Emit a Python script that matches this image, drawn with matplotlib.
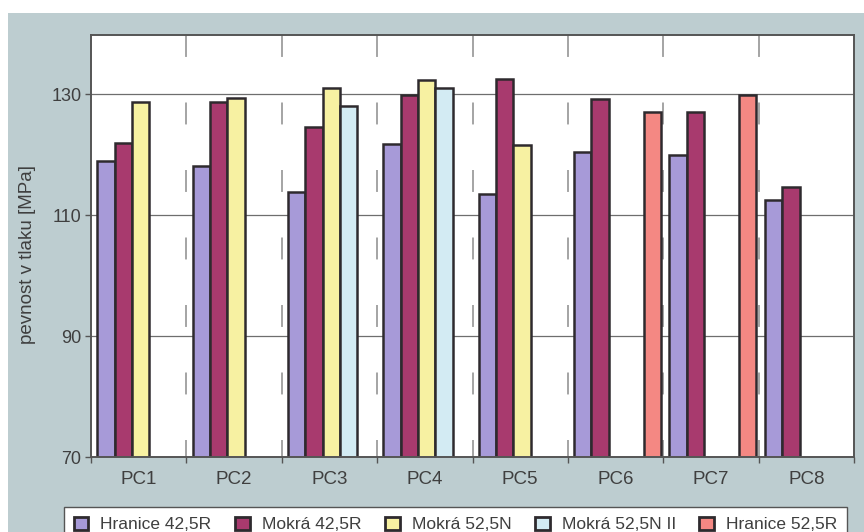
import numpy as np
import matplotlib
matplotlib.use("Agg")
import matplotlib.pyplot as plt
from matplotlib.patches import Rectangle, Patch

plt.rcParams['font.family'] = ['Liberation Sans', 'DejaVu Sans']
plt.rcParams['lines.scale_dashes'] = False

categories = ["PC1", "PC2", "PC3", "PC4", "PC5", "PC6", "PC7", "PC8"]
series_names = ["Hranice 42,5R", "Mokrá 42,5R", "Mokrá 52,5N",
                "Mokrá 52,5N II", "Hranice 52,5R"]
nan = np.nan
hranice_425r = [118.9, 118.1, 113.8, 121.7, 113.5, 120.4, 119.9, 112.5]
mokra_425r = [121.9, 128.7, 124.6, 129.9, 132.6, 129.2, 127.1, 114.6]
mokra_525n = [128.7, 129.4, 131.1, 132.3, 121.6, nan, nan, nan]
mokra_525n_ii = [nan, nan, 128.1, 131.1, nan, nan, nan, nan]
hranice_525r = [nan, nan, nan, nan, nan, 127.1, 129.8, nan]
series_values = [hranice_425r, mokra_425r, mokra_525n, mokra_525n_ii, hranice_525r]
y_ticks = [70, 90, 110, 130]

colors = ["#a79ad8", "#a83a6e", "#f7f1a2", "#d3ebf3", "#f48883"]
edge = "#2e2a2e"
text_col = "#3f3f3f"

fig = plt.figure(figsize=(8.64, 5.32), dpi=100, facecolor="white")
# page backdrop, drawn beneath everything else
fig.patches.append(Rectangle((8 / 864, 0), 1, (532 - 13) / 532,
                             transform=fig.transFigure, facecolor="#bdcdd0",
                             edgecolor="none", zorder=-10))

ax = fig.add_axes([91 / 864, 1 - 457 / 532, (854 - 91) / 864, (457 - 35) / 532])
ax.set_zorder(1)
ax.set_facecolor("white")
n = len(categories)
x = np.arange(n)
ax.set_xlim(-0.5, n - 0.5)
ax.set_ylim(70, 139.8)

# horizontal grid
for v in y_ticks[1:]:
    ax.axhline(v, color="#6e6e6e", lw=0.9, zorder=1)
# dashed separators between groups
for b in np.arange(0.5, n - 0.5, 1.0):
    ax.plot([b, b], [139.8, 70], color="#8c8c8c", lw=1.1,
            dashes=(15.8, 32.8), zorder=1, solid_capstyle="butt")

w = 0.182
for k, (vals, c) in enumerate(zip(series_values, colors)):
    vals = np.asarray(vals, dtype=float)
    m = ~np.isnan(vals)
    ax.bar(x[m] + (k - 2) * w + 0.02, vals[m], width=w, color=c,
           edgecolor=edge, linewidth=1.8, zorder=3)

for s in ax.spines.values():
    s.set_color("#555555")
    s.set_linewidth(1.4)
    s.set_zorder(4)

ax.set_yticks(y_ticks)
ax.set_yticklabels([str(v) for v in y_ticks])
ax.tick_params(axis="y", direction="out", length=4, width=1.0, color="#555555",
               labelsize=13, labelcolor=text_col, pad=3)
ax.set_xticks(x)
ax.set_xticklabels(categories)
ax.set_xticks(np.arange(-0.5, n, 1.0), minor=True)
ax.tick_params(axis="x", which="major", length=0, labelsize=13.5,
               labelcolor=text_col, pad=10)
ax.tick_params(axis="x", which="minor", direction="out", length=4, width=1.0,
               color="#555555")

ax.set_ylabel("pevnost v tlaku [MPa]", fontsize=13.5, color=text_col)
ax.yaxis.set_label_coords(-0.072, 0.48)

handles = [Patch(facecolor=c, edgecolor=edge, linewidth=2.0) for c in colors]
leg = fig.legend(handles, series_names, loc="upper left", ncol=5,
                 bbox_to_anchor=(64 / 864, 1 - 507 / 532), frameon=True,
                 fancybox=False, framealpha=1, edgecolor="#555555",
                 fontsize=12.5, handlelength=0.85, handleheight=0.85,
                 handletextpad=0.7, columnspacing=1.35, borderpad=0.55,
                 borderaxespad=0)
leg.set_zorder(5)
leg.get_frame().set_linewidth(1.0)
for t in leg.get_texts():
    t.set_color(text_col)

fig.savefig("out.png", dpi=100, facecolor=fig.get_facecolor())
